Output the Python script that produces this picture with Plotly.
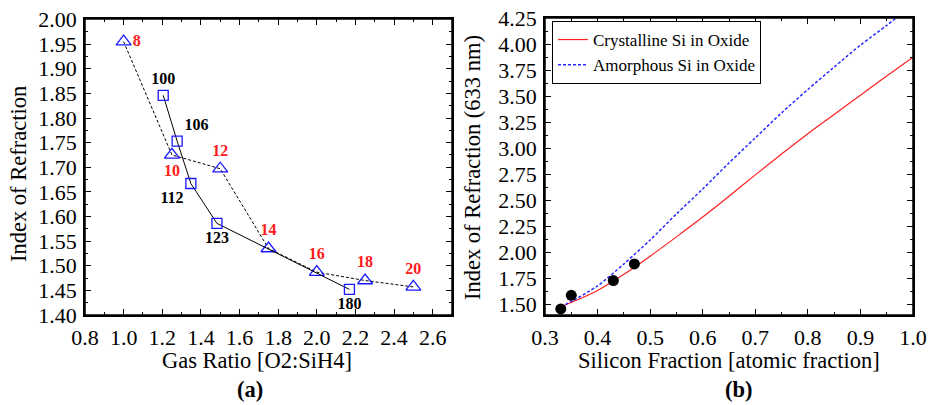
import plotly.graph_objects as go

# Panel (a) data
tri_x = [1.0, 1.25, 1.5, 1.75, 2.0, 2.25, 2.5]
tri_y = [1.955, 1.725, 1.697, 1.535, 1.487, 1.470, 1.457]
tri_labels = ["8", "10", "12", "14", "16", "18", "20"]
tri_pos = ["middle right", "bottom center", "top center", "top center", "top center", "top center", "top center"]

sq_x = [1.205, 1.277, 1.348, 1.483, 2.169]
sq_y = [1.846, 1.753, 1.667, 1.586, 1.452]
sq_labels = ["100", "106", "112", "123", "180"]
sq_pos = ["top center", "top right", "bottom left", "bottom center", "bottom center"]

# Panel (b) data
cry_x = [0.33, 0.35, 0.40, 0.45, 0.50, 0.55, 0.60, 0.65, 0.70, 0.75, 0.80, 0.85, 0.90, 0.95, 1.00]
cry_y = [1.48, 1.52, 1.635, 1.79, 1.965, 2.15, 2.34, 2.54, 2.745, 2.945, 3.14, 3.325, 3.51, 3.695, 3.875]
amo_x = [0.33, 0.35, 0.40, 0.45, 0.50, 0.55, 0.60, 0.65, 0.70, 0.75, 0.80, 0.85, 0.90, 0.95, 0.97]
amo_y = [1.48, 1.53, 1.68, 1.89, 2.12, 2.37, 2.61, 2.86, 3.10, 3.34, 3.565, 3.78, 3.99, 4.18, 4.26]
dot_x = [0.33, 0.35, 0.43, 0.47]
dot_y = [1.458, 1.589, 1.730, 1.890]

FONT = "Liberation Serif, Times New Roman, serif"
BLUE = "#1a1aff"
W, H = 928, 405


def fx(p):
    return p / W


def fy(p):
    return 1 - p / H


fig = go.Figure()

fig.add_trace(go.Scatter(
    x=tri_x, y=tri_y, mode="lines+markers+text", text=tri_labels, textposition=tri_pos,
    textfont=dict(family=FONT, size=16, color="#ff1a1a", weight="bold"),
    line=dict(color="black", width=1, dash="3px,2px"),
    marker=dict(symbol="triangle-up-open", size=13, color=BLUE, line=dict(width=1.3, color=BLUE)),
    xaxis="x", yaxis="y", showlegend=False, cliponaxis=False))

fig.add_trace(go.Scatter(
    x=sq_x, y=sq_y, mode="lines+markers+text", text=sq_labels, textposition=sq_pos,
    textfont=dict(family=FONT, size=16, color="black", weight="bold"),
    line=dict(color="black", width=1),
    marker=dict(symbol="square-open", size=10, color=BLUE, line=dict(width=1.3, color=BLUE)),
    xaxis="x", yaxis="y", showlegend=False, cliponaxis=False))

fig.add_trace(go.Scatter(
    x=cry_x, y=cry_y, mode="lines", name="Crystalline Si in Oxide",
    line=dict(color="#ff2020", width=1.2, shape="spline", smoothing=0.8),
    xaxis="x2", yaxis="y2"))

fig.add_trace(go.Scatter(
    x=amo_x, y=amo_y, mode="lines", name="Amorphous Si in Oxide",
    line=dict(color="#2a2aff", width=1.5, dash="3px,2px", shape="spline", smoothing=0.8),
    xaxis="x2", yaxis="y2"))

fig.add_trace(go.Scatter(
    x=dot_x, y=dot_y, mode="markers", showlegend=False,
    marker=dict(symbol="circle", size=11, color="black"),
    xaxis="x2", yaxis="y2", cliponaxis=False))

tickfont = dict(family=FONT, size=22, color="black")
common = dict(showline=True, linecolor="black", linewidth=1.5, mirror="ticks", ticks="inside",
              ticklen=6, tickwidth=1.2, tickcolor="black", showgrid=False, zeroline=False,
              tickfont=tickfont, automargin=False, ticklabelstandoff=2)

fig.update_layout(
    template="none",
    width=W, height=H,
    margin=dict(l=0, r=0, t=0, b=0, pad=0, autoexpand=False),
    paper_bgcolor="white", plot_bgcolor="white",
    font=dict(family=FONT, color="black"),
    xaxis=dict(domain=[fx(85), fx(452)], range=[0.8, 2.7], tickmode="linear", tick0=0.8, dtick=0.2,
               tickformat=".1f", minor=dict(dtick=0.1, ticks="inside", ticklen=3, tickcolor="black"),
               anchor="y", **common),
    yaxis=dict(domain=[fy(315), fy(19)], range=[1.40, 2.001], tickmode="linear", tick0=1.4, dtick=0.05,
               tickformat=".2f", minor=dict(dtick=0.025, ticks="inside", ticklen=3, tickcolor="black"),
               anchor="x", **common),
    xaxis2=dict(domain=[fx(545), fx(913)], range=[0.3, 1.0], tickmode="linear", tick0=0.3, dtick=0.1,
                tickformat=".1f", minor=dict(dtick=0.05, ticks="inside", ticklen=3, tickcolor="black"),
                anchor="y2", **common),
    yaxis2=dict(domain=[fy(315), fy(18)], range=[1.40, 4.251], tickmode="linear", tick0=1.5, dtick=0.25,
                tickformat=".2f", minor=dict(dtick=0.125, ticks="inside", ticklen=3, tickcolor="black"),
                anchor="x2", **common),
    legend=dict(x=fx(552), y=fy(21), xanchor="left", yanchor="top", bgcolor="white",
                bordercolor="black", borderwidth=1, font=dict(family=FONT, size=17, color="black"),
                tracegroupgap=0),
)

# frame around each plot area
for xr, yr in (("x", "y"), ("x2", "y2")):
    fig.add_shape(type="rect", xref=f"{xr} domain", yref=f"{yr} domain", x0=0, x1=1, y0=0, y1=1,
                  line=dict(color="black", width=1.5), fillcolor="rgba(0,0,0,0)", layer="above")

ann_font = dict(family=FONT, size=22.5, color="black")
fig.add_annotation(text="Index of Refraction", x=fx(19), y=fy(174), xref="paper", yref="paper",
                   textangle=-90, showarrow=False, font=ann_font, xanchor="center", yanchor="middle")
fig.add_annotation(text="Index of Refraction (633 nm)", x=fx(473), y=fy(168), xref="paper", yref="paper",
                   textangle=-90, showarrow=False, font=ann_font, xanchor="center", yanchor="middle")
fig.add_annotation(text="Gas Ratio [O2:SiH4]", x=fx(257), y=fy(360), xref="paper", yref="paper",
                   showarrow=False, font=ann_font, xanchor="center", yanchor="middle")
fig.add_annotation(text="Silicon Fraction [atomic fraction]", x=fx(729), y=fy(360), xref="paper", yref="paper",
                   showarrow=False, font=ann_font, xanchor="center", yanchor="middle")
fig.add_annotation(text="<b>(a)</b>", x=fx(250), y=fy(389), xref="paper", yref="paper",
                   showarrow=False, font=ann_font, xanchor="center", yanchor="middle")
fig.add_annotation(text="<b>(b)</b>", x=fx(739), y=fy(389), xref="paper", yref="paper",
                   showarrow=False, font=ann_font, xanchor="center", yanchor="middle")

fig.write_html("out.html", config={"displayModeBar": False},
               post_script="document.body.style.margin='0px';document.body.style.overflow='hidden';")
